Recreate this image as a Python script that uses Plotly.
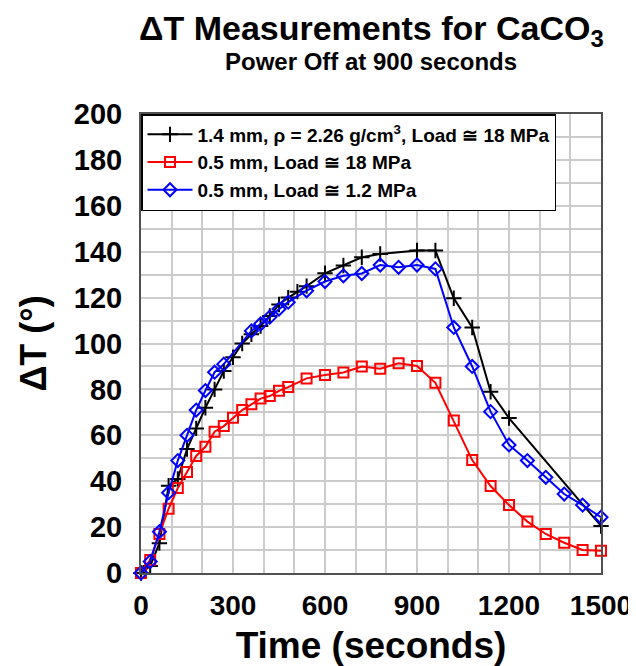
import plotly.graph_objects as go

# Time (s) and ΔT values
t_black = [0, 30, 60, 90, 120, 150, 180, 210, 240, 270, 300, 330, 360, 390, 420, 450, 480, 510, 540,
           600, 660, 720, 780, 900, 960, 1020, 1080, 1140, 1200, 1500]
v_black = [0, 3, 13, 38, 41, 54, 63, 72, 80, 88, 94, 100, 104, 107.6, 112, 117, 120, 122.6, 125,
           130.6, 134, 137.6, 139, 140.5, 140.5, 119.7, 107, 79, 67.5, 20.5]

t_red = [0, 30, 60, 90, 120, 150, 180, 210, 240, 270, 300, 330, 360, 390, 420, 450, 480,
         540, 600, 660, 720, 780, 840, 900, 960, 1020, 1080, 1140, 1200, 1260, 1320, 1380, 1440, 1500]
v_red = [0, 5.7, 17, 28, 37, 44, 51, 55, 61.6, 64, 67.6, 71, 73.5, 76, 77.1, 79.4, 81,
         84.8, 86.3, 87.4, 90, 89, 91.4, 90.2, 82.9, 66.4, 49.2, 37.9, 29.6, 22.4, 17, 13.2, 10, 9.7]

t_blue = [0, 30, 60, 90, 120, 150, 180, 210, 240, 270, 360, 390, 420, 450, 480, 540, 600, 660,
          720, 780, 840, 900, 960, 1020, 1080, 1140, 1200, 1260, 1320, 1380, 1440, 1500]
v_blue = [0, 5, 18, 35, 49, 60, 71, 79.5, 87.5, 91, 105.5, 108.5, 111.5, 115, 118, 123, 127, 129.5,
          130.5, 134.2, 133.2, 134.2, 132.5, 107, 90, 70.3, 55.8, 49, 41.7, 34.4, 29.6, 24.3]

names = ["1.4 mm, ρ = 2.26 g/cm<sup>3</sup>, Load ≅ 18 MPa",
         "0.5 mm, Load ≅ 18 MPa",
         "0.5 mm, Load ≅ 1.2 MPa"]

x_ticks = [0, 300, 600, 900, 1200, 1500]
y_ticks = list(range(0, 201, 20))

FONT = "Liberation Sans, Arial, sans-serif"

fig = go.Figure()
fig.add_trace(go.Scatter(x=t_black, y=v_black, name=names[0], mode="lines+markers",
                         line=dict(color="black", width=2),
                         marker=dict(symbol="cross-thin", size=11, line=dict(color="black", width=2)),
                         cliponaxis=False))
fig.add_trace(go.Scatter(x=t_red, y=v_red, name=names[1], mode="lines+markers",
                         line=dict(color="#ff0000", width=2),
                         marker=dict(symbol="square-open", size=10, color="#ff0000", line=dict(width=2)),
                         cliponaxis=False))
fig.add_trace(go.Scatter(x=t_blue, y=v_blue, name=names[2], mode="lines+markers",
                         line=dict(color="#0000ff", width=2),
                         marker=dict(symbol="diamond-open", size=10, color="#0000ff", line=dict(width=2)),
                         cliponaxis=False))

# page body adds an 8px offset, so the figure is sized to fit the window
fig.update_layout(
    width=628, height=658,
    margin=dict(l=133, r=35, t=106, b=93),
    paper_bgcolor="white", plot_bgcolor="white",
    font=dict(family=FONT, color="black"),
    showlegend=True,
    legend=dict(x=0, y=1, xanchor="left", yanchor="top",
                bgcolor="white", bordercolor="black", borderwidth=1.5,
                font=dict(size=19, family=FONT, weight="bold"),
                tracegroupgap=0, itemwidth=45),
    annotations=[
        dict(text="ΔT Measurements for CaCO<sub>3</sub>", xref="paper", yref="paper",
             x=0.5, y=1, yshift=84, xanchor="center", yanchor="middle", showarrow=False,
             font=dict(size=34, family=FONT, weight="bold")),
        dict(text="Power Off at 900 seconds", xref="paper", yref="paper",
             x=0.5, y=1, yshift=53, xanchor="center", yanchor="middle", showarrow=False,
             font=dict(size=24, family=FONT, weight="bold")),
    ],
)

fig.update_xaxes(range=[0, 1500], tickvals=x_ticks, showgrid=True, gridcolor="#cccccc", gridwidth=2,
                 minor=dict(dtick=100, showgrid=True, gridcolor="#cccccc", gridwidth=2),
                 showline=True, linecolor="#505050", linewidth=2, mirror=True, zeroline=False,
                 ticks="", ticklabelstandoff=6, automargin=False,
                 tickfont=dict(size=28, family=FONT, weight="bold"),
                 title=dict(text="Time (seconds)", standoff=14,
                            font=dict(size=37, family=FONT, weight="bold")))
fig.update_yaxes(range=[0, 200], tickvals=y_ticks, showgrid=True, gridcolor="#cccccc", gridwidth=2,
                 minor=dict(dtick=10, showgrid=True, gridcolor="#cccccc", gridwidth=2),
                 showline=True, linecolor="#505050", linewidth=2, mirror=True, zeroline=False,
                 ticks="", ticklabelstandoff=11, automargin=False,
                 tickfont=dict(size=29, family=FONT, weight="bold"),
                 title=dict(text="ΔT (°)", standoff=16,
                            font=dict(size=36, family=FONT, weight="bold")))

fig.write_html("out.html")
